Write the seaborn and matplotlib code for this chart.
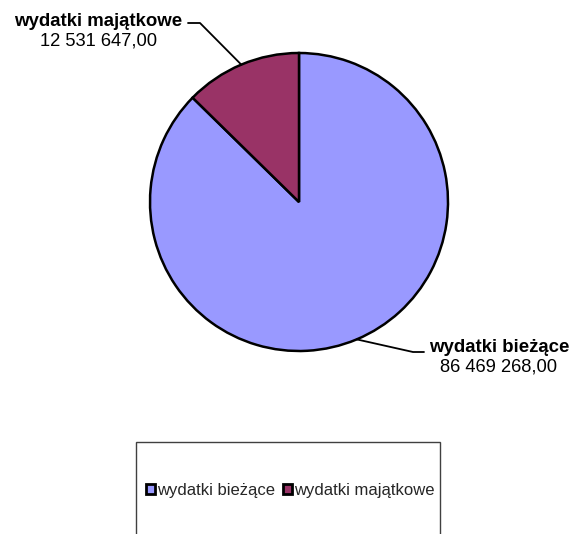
import numpy as np
import matplotlib
matplotlib.use("Agg")
import matplotlib.pyplot as plt
from matplotlib.patches import Patch, Rectangle
import seaborn as sns

labels = ["wydatki bieżące", "wydatki majątkowe"]
values = [86469268.00, 12531647.00]
value_texts = ["86 469 268,00", "12 531 647,00"]
colors = ["#9999FF", "#993366"]

sns.set_theme(style="white")
plt.rcParams["font.family"] = ["Liberation Sans", "DejaVu Sans"]

W, H = 571, 534
fig = plt.figure(figsize=(W / 100, H / 100), dpi=100)
ax = fig.add_axes([0, 0, 1, 1])

cx, cy, r = 299, H - 202, 149
wedges, _ = ax.pie(
    values,
    colors=colors,
    startangle=90,
    counterclock=False,
    center=(cx, cy),
    radius=r,
    wedgeprops=dict(edgecolor="black", linewidth=1.8),
)
ax.set_xlim(0, W)
ax.set_ylim(0, H)
ax.set_aspect("equal")
ax.axis("off")

# leader lines start at the middle of each wedge's arc
label_layout = {
    0: dict(elbow=(413, H - 352), end=(424, H - 352), text=(499, H - 348)),
    1: dict(elbow=(200, H - 23), end=(188, H - 23), text=(98, H - 22)),
}
for i, wedge in enumerate(wedges):
    mid = np.deg2rad((wedge.theta1 + wedge.theta2) / 2)
    ax_pt = (cx + r * np.cos(mid), cy + r * np.sin(mid))
    lay = label_layout[i]
    ax.plot([ax_pt[0], lay["elbow"][0], lay["end"][0]],
            [ax_pt[1], lay["elbow"][1], lay["end"][1]],
            color="black", linewidth=1.3)
    tx, ty = lay["text"]
    ax.text(tx, ty, labels[i], ha="center", va="center", fontsize=13.4,
            fontweight="bold", color="black")
    ax.text(tx, ty - 19, value_texts[i], ha="center", va="center",
            fontsize=13.2, color="black")

# legend box, cut at the bottom edge of the picture
ax.add_patch(Rectangle((136, -30), 304, H - 442 + 30, fill=False,
                       edgecolor="#404040", linewidth=1))
handles = [Patch(facecolor=c, edgecolor="black", linewidth=2) for c in colors]
ax.legend(handles, labels, loc="center", bbox_to_anchor=(290 / W, (H - 490) / H),
          ncol=2, frameon=False, fontsize=12, handlelength=0.55, handleheight=0.55,
          handletextpad=0.1, columnspacing=0.5, borderpad=0)

fig.savefig("out.png", dpi=100)
